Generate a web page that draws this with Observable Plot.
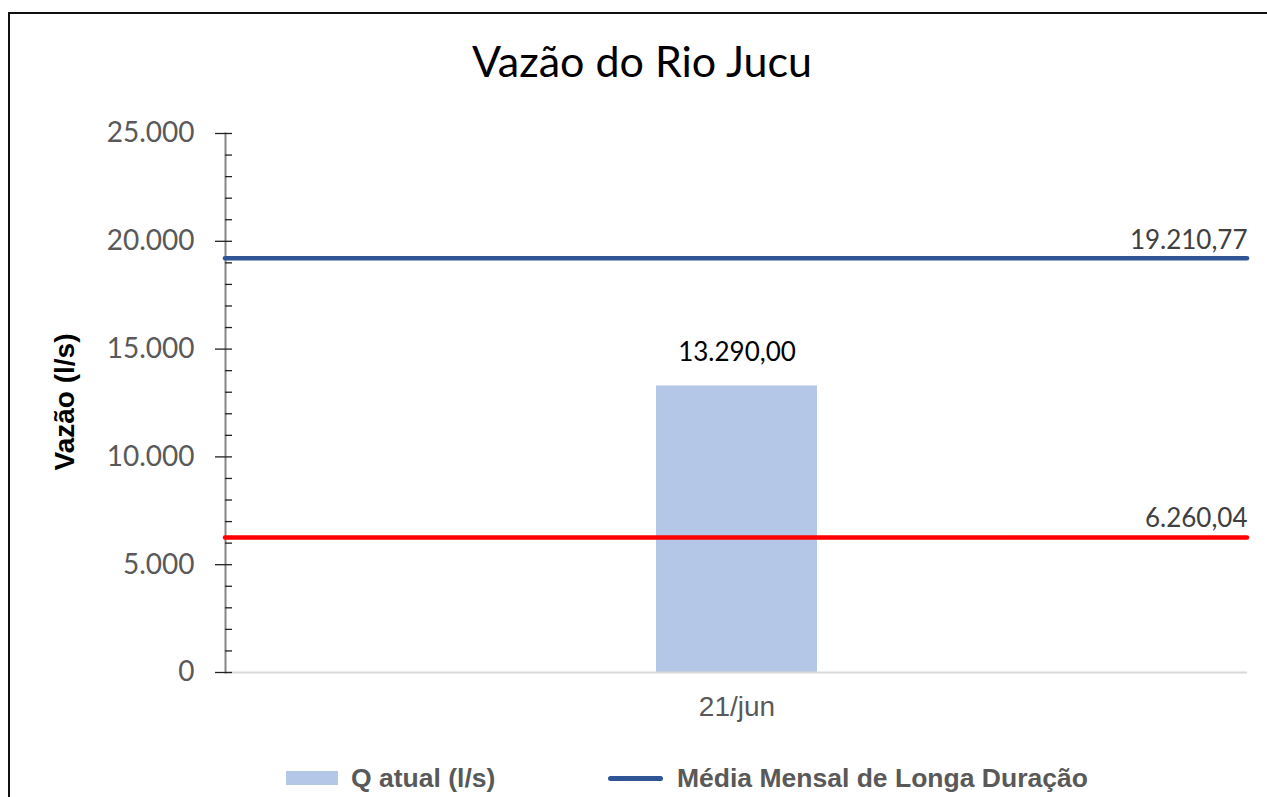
<!DOCTYPE html>
<html>
<head>
<meta charset="utf-8">
<script src="https://cdn.jsdelivr.net/npm/d3@7"></script>
<script src="https://cdn.jsdelivr.net/npm/@observablehq/plot@0.6"></script>
<style>
  html, body { margin: 0; padding: 0; background: #fff; }
  #chart { position: relative; width: 1267px; height: 797px; overflow: hidden; background: #fff; }
  #border { position: absolute; left: 8px; top: 12px; width: 1400px; height: 900px;
            border-left: 2px solid #111; border-top: 2px solid #111; box-sizing: border-box; }
  #title { position: absolute; left: 8px; width: 1268px; top: 35px; text-align: center;
           font-family: Lato, sans-serif; font-size: 43px; color: #000; }
  #ylabel { position: absolute; left: 65px; top: 402px; transform: translate(-50%, -50%) rotate(-90deg);
            white-space: nowrap; font-family: "Liberation Sans", Arial, sans-serif; font-weight: bold;
            font-size: 28px; color: #000; }
  #plot { position: absolute; left: 0; top: 100px; }
  #legend { position: absolute; top: 763px; left: 0; width: 1267px; height: 30px;
            font-family: "Liberation Sans", Arial, sans-serif; font-weight: bold; font-size: 26.5px; color: #595959; }
  .item { position: absolute; top: 0; display: flex; align-items: center; height: 30px; white-space: nowrap; }
  .sw-bar { width: 52px; height: 14px; background: #B4C7E7; margin-right: 13px; }
  .sw-line { width: 55px; height: 5px; border-radius: 3px; background: #2F5597; margin-right: 14px; }
</style>
</head>
<body>
<div id="chart">
  <div id="border"></div>
  <div id="title">Vazão do Rio Jucu</div>
  <div id="ylabel">Vazão (l/s)</div>
  <div id="plot"></div>
  <div id="legend"></div>
</div>
<script>
// ---- data ----
const categories = ["21/jun"];
const qAtual = [13290.00];
const mediaMensal = [19210.77];
const limiteInferior = [6260.04];
const yTicks = [0, 5000, 10000, 15000, 20000, 25000];
const yMinorTicks = d3.range(0, 25001, 1000);
const legendLabels = ["Q atual (l/s)", "Média Mensal de Longa Duração"];

const ptBR = d3.formatLocale({decimal: ",", thousands: ".", grouping: [3], currency: ["R$", ""]});
const fmtInt = ptBR.format(",.0f");
const fmtDec = ptBR.format(",.2f");

const bars = categories.map((c, i) => ({cat: c, value: qAtual[i]}));
const mediaRows = mediaMensal.map(v => ({value: v}));
const limiteRows = limiteInferior.map(v => ({value: v}));

const chart = Plot.plot({
  width: 1267,
  height: 640,
  marginTop: 33,
  marginBottom: 68,
  marginLeft: 225,
  marginRight: 20,
  x: {type: "band", domain: categories, padding: 0.728, axis: null, label: null},
  y: {domain: [0, 25000], axis: null, label: null},
  marks: [
    Plot.barY(bars, {x: "cat", y: "value", fill: "#B4C7E7"}),
    Plot.ruleY([0], {stroke: "#D9D9D9", strokeWidth: 2}),
    Plot.frame({anchor: "left", stroke: "#868686", strokeWidth: 2}),
    Plot.axisY(yMinorTicks, {tickSize: -7, text: null, label: null, stroke: "#222", strokeWidth: 1.3}),
    Plot.axisY(yTicks, {
      tickSize: 10, tickPadding: 21, stroke: "#222", strokeWidth: 1.3, label: null,
      tickFormat: fmtInt, fontSize: 28, fontFamily: "Lato, sans-serif", fill: "#595959"
    }),
    Plot.axisX(categories, {
      tickSize: 0, tickPadding: 24, fontSize: 28, label: null,
      fontFamily: "Liberation Sans, Arial, sans-serif", fill: "#595959"
    }),
    Plot.ruleY(mediaRows, {y: "value", stroke: "#2F5597", strokeWidth: 4.5, strokeLinecap: "round"}),
    Plot.ruleY(limiteRows, {y: "value", stroke: "#FF0000", strokeWidth: 4.5, strokeLinecap: "round"}),
    Plot.text(bars, {x: "cat", y: "value", text: d => fmtDec(d.value), dy: -33,
      fontSize: 26, fontFamily: "Lato, sans-serif", fill: "#000"}),
    Plot.text(mediaRows, {y: "value", frameAnchor: "right", textAnchor: "end", text: d => fmtDec(d.value),
      dy: -18, fontSize: 26, fontFamily: "Lato, sans-serif", fill: "#404040"}),
    Plot.text(limiteRows, {y: "value", frameAnchor: "right", textAnchor: "end", text: d => fmtDec(d.value),
      dy: -19, fontSize: 26, fontFamily: "Lato, sans-serif", fill: "#404040"})
  ]
});
document.getElementById("plot").appendChild(chart);

// legend
const legend = document.getElementById("legend");
const item1 = document.createElement("div");
item1.className = "item"; item1.style.left = "286px";
item1.innerHTML = '<span class="sw-bar"></span><span></span>';
item1.lastChild.textContent = legendLabels[0];
const item2 = document.createElement("div");
item2.className = "item"; item2.style.left = "608px";
item2.innerHTML = '<span class="sw-line"></span><span></span>';
item2.lastChild.textContent = legendLabels[1];
legend.appendChild(item1);
legend.appendChild(item2);
</script>
</body>
</html>
